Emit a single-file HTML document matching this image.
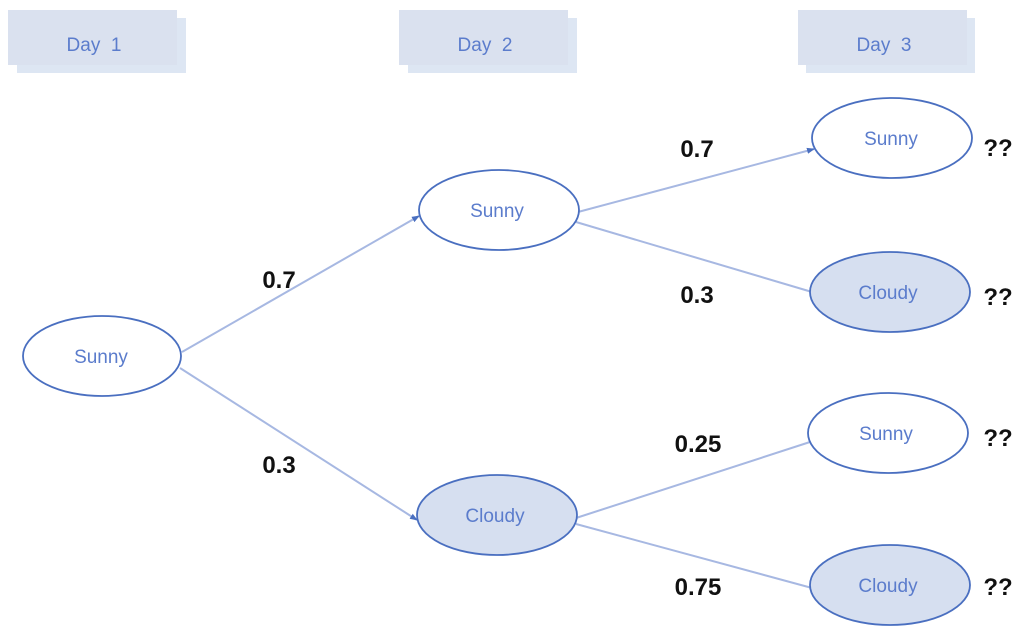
<!DOCTYPE html>
<html><head><meta charset="utf-8"><style>
html,body{margin:0;padding:0;background:#fff;}
svg{display:block;font-family:"Liberation Sans","DejaVu Sans",sans-serif;}
</style></head><body>
<svg width="1024" height="640" viewBox="0 0 1024 640">
<defs>
<marker id="a" markerWidth="8" markerHeight="8" refX="7" refY="4" orient="auto" markerUnits="userSpaceOnUse">
<path d="M0,1 L8,4 L0,7 z" fill="#4a6fc0"/>
</marker>
</defs>
<g fill="#dde6f3"><rect x="17" y="18" width="169" height="55"/><rect x="408" y="18" width="169" height="55"/><rect x="806" y="18" width="169" height="55"/></g>
<g fill="#dae1ef"><rect x="8" y="10" width="169" height="55"/><rect x="399" y="10" width="169" height="55"/><rect x="798" y="10" width="169" height="55"/></g>
<g fill="#5b7ccc" font-size="19" text-anchor="middle">
<text x="94" y="51">Day&#160;&#160;1</text><text x="485" y="51">Day&#160;&#160;2</text><text x="884" y="51">Day&#160;&#160;3</text>
</g>
<g stroke="#a7b8e2" stroke-width="2" fill="none">
<line x1="182" y1="352" x2="419" y2="216" marker-end="url(#a)"/>
<line x1="180" y1="368" x2="417" y2="520" marker-end="url(#a)"/>
<line x1="578" y1="212" x2="814" y2="149" marker-end="url(#a)"/>
<line x1="576" y1="222" x2="812" y2="292"/>
<line x1="576" y1="518" x2="810" y2="442"/>
<line x1="576" y1="524" x2="812" y2="588"/>
</g>
<g stroke="#4a6fc0" stroke-width="1.8">
<ellipse cx="102" cy="356" rx="79" ry="40" fill="#fff"/>
<ellipse cx="499" cy="210" rx="80" ry="40" fill="#fff"/>
<ellipse cx="497" cy="515" rx="80" ry="40" fill="#d6dff0"/>
<ellipse cx="892" cy="138" rx="80" ry="40" fill="#fff"/>
<ellipse cx="890" cy="292" rx="80" ry="40" fill="#d6dff0"/>
<ellipse cx="888" cy="433" rx="80" ry="40" fill="#fff"/>
<ellipse cx="890" cy="585" rx="80" ry="40" fill="#d6dff0"/>
</g>
<g fill="#5b7ccc" font-size="19" text-anchor="middle">
<text x="101" y="363">Sunny</text>
<text x="497" y="217">Sunny</text>
<text x="495" y="522">Cloudy</text>
<text x="891" y="145">Sunny</text>
<text x="888" y="299">Cloudy</text>
<text x="886" y="440">Sunny</text>
<text x="888" y="592">Cloudy</text>
</g>
<g fill="#111" font-size="24" font-weight="bold" text-anchor="middle">
<text x="279" y="288">0.7</text>
<text x="279" y="473">0.3</text>
<text x="697" y="157">0.7</text>
<text x="697" y="303">0.3</text>
<text x="698" y="452">0.25</text>
<text x="698" y="595">0.75</text>
<text x="998" y="156">??</text>
<text x="998" y="305">??</text>
<text x="998" y="446">??</text>
<text x="998" y="595">??</text>
</g>
</svg>
</body></html>
